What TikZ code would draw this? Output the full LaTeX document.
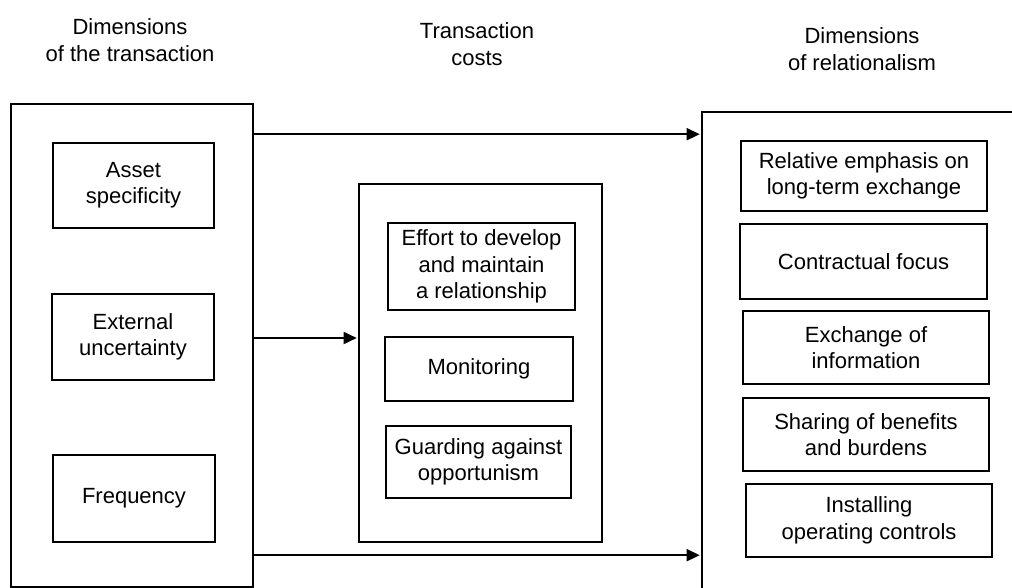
\documentclass[tikz,border=0pt]{standalone}
\usepackage{fontspec}
\setmainfont{Liberation Sans}
\usetikzlibrary{arrows.meta}
\begin{document}
\begin{tikzpicture}[x=1pt,y=-1pt,
  every node/.style={font=\fontsize{22}{26.4}\selectfont, align=center, inner sep=0pt},
  frame/.style={draw, line width=1.6pt},
  item/.style={draw, line width=1.6pt},
  flow/.style={line width=1.8pt, shorten >=1.5pt, -{Triangle[length=13pt,width=12pt]}}]
\useasboundingbox (0,0) rectangle (1012,588);
\clip (0,0) rectangle (1012,588);

% column headings
\node (h1) at (130,40) {Dimensions\\of the transaction};
\node (h2) at (477,44) {Transaction\\costs};
\node (h3) at (862,49) {Dimensions\\of relationalism};

% dimensions of the transaction
\node[frame, minimum width=242pt, minimum height=483pt] (L) at (132,345.5) {};
\node[item, minimum width=161pt, minimum height=85pt] (asset) at (133.5,185.5) {Asset\\specificity};
\node[item, minimum width=162pt, minimum height=86pt] (unc) at (133,337) {External\\uncertainty};
\node[item, minimum width=162pt, minimum height=87pt] (freq) at (134,498.5) {Frequency};

% transaction costs
\node[frame, minimum width=243pt, minimum height=358pt] (M) at (480.5,363) {};
\node[item, minimum width=187pt, minimum height=87pt] (effort) at (481.5,266.5) {Effort to develop\\and maintain\\a relationship};
\node[item, minimum width=188pt, minimum height=64pt] (mon) at (479,369) {Monitoring};
\node[item, minimum width=185pt, minimum height=72pt] (guard) at (478.5,462) {Guarding against\\opportunism};

% dimensions of relationalism (frame runs past the right and bottom edges)
\node[frame, minimum width=328pt, minimum height=488pt] (R) at (866,356) {};
\node[item, minimum width=246pt, minimum height=70pt] (emph) at (864,176) {Relative emphasis on\\long-term exchange};
\node[item, minimum width=247pt, minimum height=75pt] (contr) at (863.5,261.5) {Contractual focus};
\node[item, minimum width=246pt, minimum height=73pt] (info) at (866,347.5) {Exchange of\\information};
\node[item, minimum width=246pt, minimum height=73pt] (share) at (866,434.5) {Sharing of benefits\\and burdens};
\node[item, minimum width=246pt, minimum height=73pt] (ctrl) at (869,520.5) {Installing\\operating controls};

% connectors
\draw[flow] ([yshift=-31pt]L.north east) -- ([yshift=-23pt]R.north west);
\draw[flow] ([yshift=7.5pt]L.east) -- ([yshift=25pt]M.west);
\draw[flow] ([yshift=-452pt]L.north east) -- ([yshift=-444pt]R.north west);
\end{tikzpicture}
\end{document}
